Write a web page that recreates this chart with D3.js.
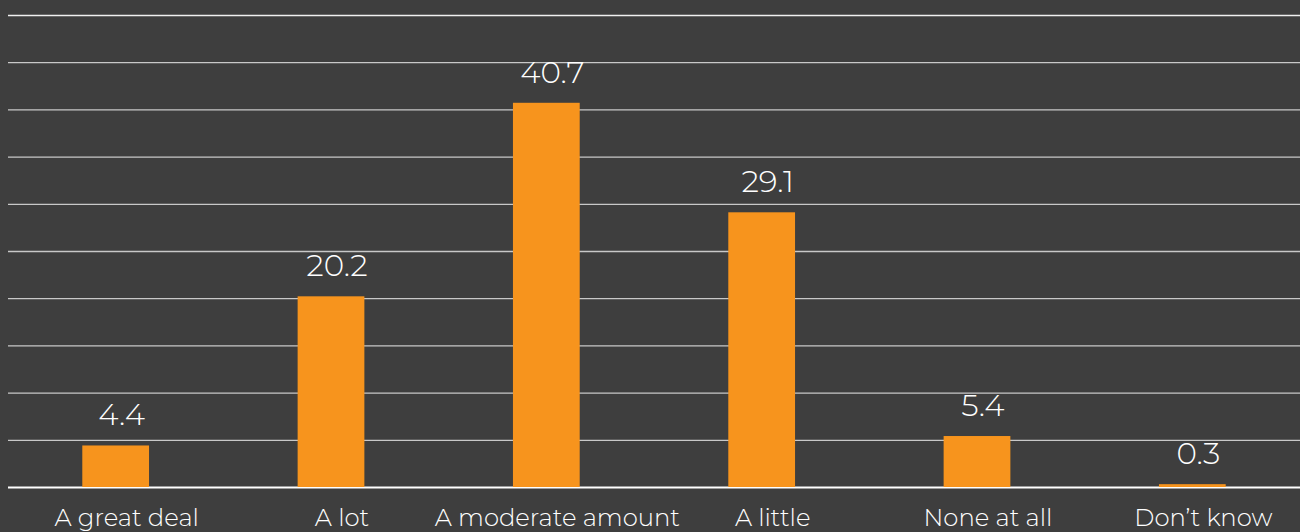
<!DOCTYPE html>
<html><head><meta charset="utf-8">
<script src="https://cdn.jsdelivr.net/npm/d3@7"></script>
<style>html,body{margin:0;padding:0;background:#3e3e3e;}svg{display:block;}</style>
</head><body>
<svg id="c" width="1300" height="532"></svg>
<script>
const categories = ["A great deal","A lot","A moderate amount","A little","None at all","Don’t know"];
const values = [4.4,20.2,40.7,29.1,5.4,0.3];
const yTicks = [0,5,10,15,20,25,30,35,40,45,50];

const svg = d3.select("#c");
const W = 1300, H = 532;
svg.append("rect").attr("width",W).attr("height",H).attr("fill","#3e3e3e");
const x = d3.scaleBand().domain(categories).range([8,1300]).paddingInner(0.69).paddingOuter(0.345);
const y = d3.scaleLinear().domain([0,50]).range([487,15]);
const font = "Montserrat, 'Open Sans', 'Noto Sans', sans-serif";

const yAxis = d3.axisLeft(y).tickValues(yTicks).tickSize(-(1300-8)).tickFormat("");
const gy = svg.append("g").attr("transform","translate(8,0)").call(yAxis);
gy.select(".domain").remove();
gy.selectAll(".tick line").attr("stroke","#c8c8c8").attr("stroke-width",1.3);
gy.selectAll(".tick").filter(d=>d===50).select("line").attr("stroke","#f0f0f0");
gy.selectAll(".tick").filter(d=>d===0).select("line").attr("stroke","#ffffff").attr("stroke-width",2);

svg.append("g").selectAll("rect").data(values).join("rect")
  .attr("x",(d,i)=>x(categories[i]))
  .attr("width",x.bandwidth())
  .attr("y",d=>y(d))
  .attr("height",d=>y(0)-y(d))
  .attr("fill","#f7941d");

svg.append("g").selectAll("text").data(values).join("text")
  .attr("x",(d,i)=>x(categories[i])+x.bandwidth()/2)
  .attr("dx",6)
  .attr("y",d=>y(d)-20)
  .attr("text-anchor","middle")
  .attr("fill","#ffffff")
  .attr("font-family",font).attr("font-weight",300)
  .attr("font-size",31)
  .text(d=>d.toFixed(1));

const xAxis = d3.axisBottom(x).tickSize(0).tickPadding(0);
const gx = svg.append("g").attr("transform","translate(0,487)").call(xAxis);
gx.select(".domain").remove();
gx.selectAll(".tick text").attr("fill","#ffffff").attr("font-family",font).attr("font-weight",300)
  .attr("font-size",24.3).attr("dy",0).attr("y",39).attr("dx",11);
</script>
</body></html>
